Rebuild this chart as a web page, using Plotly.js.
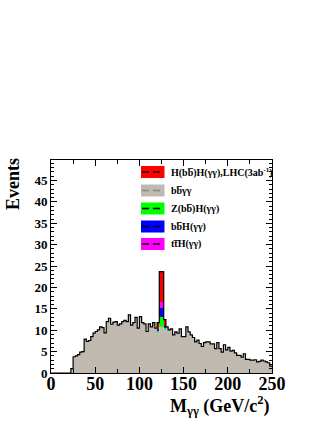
<!DOCTYPE html>
<html><head><meta charset="utf-8">
<script src="https://cdn.plot.ly/plotly-3.0.1.min.js"></script>
<style>html,body{margin:0;padding:0;background:#fff;}#chart{width:327px;height:423px;}</style>
</head><body><div id="chart"></div>
<script>
// Background (b b-bar gamma gamma) histogram, 2.5 GeV bins from 0 to 250
const binWidth = 2.5;
const bkg = [
  0,0,0,0,0,0,0,0,0,1.0,
  3.8,4.0,4.3,4.9,5.0,7.9,7.4,7.6,8.5,9.3,
  9.7,10.1,10.8,10.6,9.4,12.0,12.8,11.4,11.9,12.0,
  11.2,11.5,12.0,12.3,12.0,13.6,11.2,11.8,13.0,10.5,
  13.2,11.8,11.5,9.7,11.5,10.8,11.8,10.5,9.3,10.8,
  10.8,10.0,10.8,10.1,10.3,8.9,9.6,9.3,10.3,8.5,
  8.5,10.8,9.6,8.9,8.3,7.3,7.7,6.9,6.2,7.1,
  7.3,7.3,6.8,6.8,5.7,7.1,5.7,4.9,6.6,5.4,
  6.0,5.1,5.3,4.7,4.1,4.1,3.7,4.5,3.2,3.2,
  3.0,3.0,3.1,2.6,2.7,3.0,2.8,2.6,2.4,1.6
];
// Signal / single-Higgs contributions (only non-zero bins), low edges in GeV
const sigEdges = [120, 122.5, 125, 127.5];
const zh  = [0.5, 2.2, 2.2, 0.5];   // Z(bb)H(gg)
const bbh = [0.4, 2.2, 2.2, 0.4];   // bbH(gg)
const tth = [0.2, 1.5, 1.5, 0.2];   // ttH(gg)
const hh  = [1.4, 7.0, 7.0, 1.4];   // H(bb)H(gg)

const legendLabels = [
  "H(bb\u0305)H(γγ),LHC(3ab<sup>-1</sup>)",
  "bb\u0305γγ",
  "Z(bb\u0305)H(γγ)",
  "bb\u0305H(γγ)",
  "tt\u0305H(γγ)"
];
const legendFill = ["#ff0000", "#c0b9b0", "#00ff00", "#0000ff", "#ff00ff"];
const legendDash = ["#000000", "#8c8680", "#000000", "#000000", "#000000"];

const edges = bkg.map((_, i) => i * binWidth);
const centers = bkg.map((_, i) => i * binWidth + binWidth / 2);
const total = bkg.slice();
const sigIdx = sigEdges.map(e => Math.round(e / binWidth));
const comps = [zh, bbh, tth, hh];
const compColors = ["#00ff00", "#0000ff", "#ff00ff", "#ff0000"];
const traces = [];
traces.push({
  type: "scatter", mode: "lines",
  x: edges.concat([bkg.length * binWidth]),
  y: bkg.concat([bkg[bkg.length - 1]]),
  line: {shape: "hv", width: 0, color: "#c0b9b0"},
  fill: "tozeroy", fillcolor: "#c0b9b0", hoverinfo: "skip"
});
const base = sigIdx.map(i => bkg[i]);
comps.forEach((c, k) => {
  traces.push({
    type: "bar",
    x: sigIdx.map(i => centers[i]),
    y: c,
    base: base.slice(),
    width: binWidth,
    marker: {color: compColors[k], line: {width: 0}},
    hoverinfo: "skip"
  });
  c.forEach((v, j) => { base[j] += v; total[sigIdx[j]] += v; });
});
traces.push({
  type: "scatter", mode: "lines",
  x: edges.concat([bkg.length * binWidth]),
  y: total.concat([total[total.length - 1]]),
  line: {shape: "hv", width: 1.2, color: "#000000"},
  hoverinfo: "skip"
});

const L = 51, R = 272, T = 160, B = 373;
const px = v => (v - L) / (R - L);
const py = v => (B - v) / (B - T);
const rows = [172, 190.5, 208.5, 226.5, 244];
const shapes = [];
const annotations = [];
rows.forEach((r, k) => {
  shapes.push({type: "rect", xref: "paper", yref: "paper",
    x0: px(141), x1: px(164.5), y0: py(r + 6), y1: py(r - 6),
    fillcolor: legendFill[k], line: {width: 0}});
  shapes.push({type: "line", xref: "paper", yref: "paper",
    x0: px(142), x1: px(164), y0: py(r), y1: py(r),
    line: {color: legendDash[k], width: 1.3, dash: "7px,4px"}});
  annotations.push({xref: "paper", yref: "paper", x: px(168.5), y: py(r),
    xanchor: "left", yanchor: "middle", showarrow: false, text: legendLabels[k],
    font: {family: "Liberation Serif", size: 10, weight: "bold", color: "#000"}});
});
annotations.push({xref: "paper", yref: "paper", x: px(13), y: py(156),
  xanchor: "center", yanchor: "top", textangle: -90, showarrow: false, text: "Events",
  font: {family: "Liberation Serif", size: 18, weight: "bold", color: "#000"}});
annotations.push({xref: "paper", yref: "paper", x: 1.0, y: py(405),
  xanchor: "right", yanchor: "middle", showarrow: false,
  text: "M<sub>γγ</sub> (GeV/c<sup>2</sup>)",
  font: {family: "Liberation Serif", size: 18, weight: "bold", color: "#000"}});

const layout = {
  width: 327, height: 423,
  margin: {l: L, r: 327 - R, t: T, b: 423 - B, pad: 0},
  paper_bgcolor: "#fff", plot_bgcolor: "#fff",
  showlegend: false, barmode: "overlay", bargap: 0,
  xaxis: {range: [0, 250], dtick: 50, tick0: 0, ticks: "inside", ticklen: 6, tickwidth: 1,
    tickcolor: "#000", showline: true, linecolor: "#000", linewidth: 1, mirror: "allticks",
    showgrid: false, zeroline: false, ticklabelstandoff: -6,
    minor: {dtick: 25, ticks: "inside", ticklen: 4, tickcolor: "#000", showgrid: false},
    tickfont: {family: "Liberation Serif", size: 18, weight: "bold", color: "#000"}},
  yaxis: {range: [0, 49.8], dtick: 5, tick0: 0, ticks: "inside", ticklen: 6, tickwidth: 1,
    tickcolor: "#000", showline: true, linecolor: "#000", linewidth: 1, mirror: "allticks",
    showgrid: false, zeroline: false,
    minor: {dtick: 1, ticks: "inside", ticklen: 3, tickcolor: "#000", showgrid: false},
    tickfont: {family: "Liberation Serif", size: 13, weight: "bold", color: "#000"}},
  shapes: shapes, annotations: annotations
};
Plotly.newPlot("chart", traces, layout, {displayModeBar: false, staticPlot: true});
</script></body></html>
